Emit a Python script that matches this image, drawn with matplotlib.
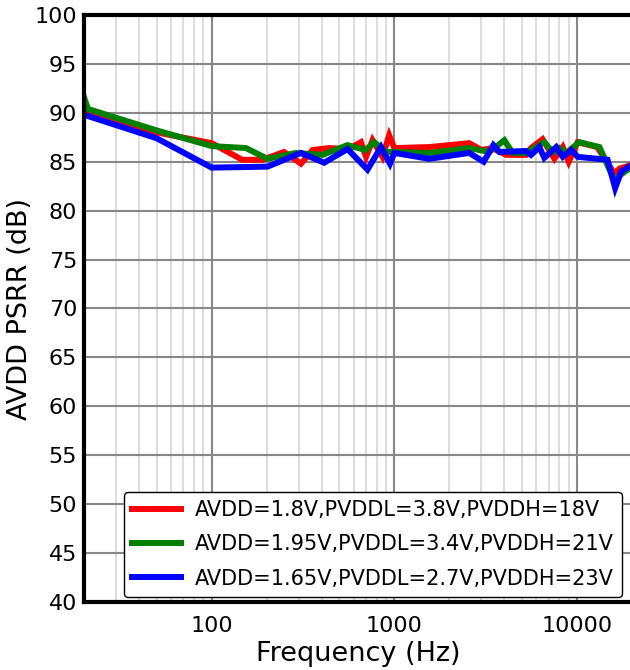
import matplotlib
matplotlib.use("Agg")
import matplotlib.pyplot as plt
from matplotlib.ticker import FixedLocator, LogLocator, NullFormatter, FixedFormatter

labels = ["AVDD=1.8V,PVDDL=3.8V,PVDDH=18V",
          "AVDD=1.95V,PVDDL=3.4V,PVDDH=21V",
          "AVDD=1.65V,PVDDL=2.7V,PVDDH=23V"]
colors = ["red", "green", "blue"]

red_f = [20, 50, 100, 147, 190, 249, 308, 357, 440, 560, 656, 700, 760, 861, 937, 1000,
         1550, 2570, 3000, 3440, 4080, 5260, 5600, 6480, 7520, 8360, 9010, 10090, 12900,
         16000, 17100, 20000]
red_db = [90.4, 88.0, 86.9, 85.2, 85.2, 86.0, 84.8, 86.2, 86.4, 86.3, 87.0, 85.5, 87.2, 85.5,
          87.7, 86.4, 86.5, 86.9, 86.2, 86.4, 85.7, 85.7, 86.4, 87.3, 85.3, 86.5, 85.0, 87.0,
          86.5, 83.8, 84.3, 84.7]

green_f = [20, 21, 50, 100, 154, 202, 289, 404, 554, 697, 776, 900, 1000, 1552, 2570, 3310,
           4000, 4440, 5260, 6620, 7360, 8010, 8710, 10300, 13270, 16000, 17100, 20000]
green_db = [91.6, 90.4, 88.2, 86.6, 86.4, 85.3, 85.9, 85.7, 86.7, 86.2, 87.0, 86.0, 86.0, 85.9,
            86.4, 86.0, 87.2, 85.9, 85.9, 87.0, 86.0, 86.4, 85.9, 87.0, 86.5, 83.1, 83.6, 84.5]

blue_f = [20, 50, 100, 202, 308, 413, 554, 713, 845, 946, 1000, 1552, 2570, 3083, 3483, 3760,
          5260, 5600, 6220, 6620, 7690, 8360, 9290, 10090, 14700, 16170, 17470, 20000]
blue_db = [89.8, 87.4, 84.4, 84.5, 85.9, 84.9, 86.3, 84.2, 86.5, 84.8, 85.9, 85.3, 85.9, 85.0,
           86.7, 86.0, 86.1, 85.7, 86.5, 85.4, 86.5, 85.5, 86.2, 85.5, 85.2, 82.3, 84.0, 84.7]

x_ticks = [100, 1000, 10000]
x_ticklabels = ["100", "1000", "10000"]
y_ticks = list(range(40, 101, 5))

fig = plt.figure(figsize=(6.3, 6.7), dpi=100)
ax = fig.add_axes([84/630, 68/670, 548/630, 587/670])

series = [(red_f, red_db), (green_f, green_db), (blue_f, blue_db)]
for (f, d), c, lab in zip(series, colors, labels):
    ax.plot(f, d, color=c, lw=4.3, label=lab, solid_joinstyle="miter")

ax.set_xscale("log")
ax.set_xlim(20, 20000)
ax.set_ylim(40, 100)
ax.xaxis.set_major_locator(FixedLocator(x_ticks))
ax.xaxis.set_major_formatter(FixedFormatter(x_ticklabels))
ax.xaxis.set_minor_locator(LogLocator(base=10, subs=range(2, 10), numticks=20))
ax.xaxis.set_minor_formatter(NullFormatter())
ax.set_yticks(y_ticks)

ax.grid(True, which="major", color="#888888", lw=1.5)
ax.grid(True, which="minor", axis="x", color="#dddddd", lw=1.5)
ax.set_axisbelow(True)

ax.tick_params(which="both", length=0, labelsize=16)
ax.tick_params(axis="x", pad=10)
ax.tick_params(axis="y", pad=5)
for s in ax.spines.values():
    s.set_linewidth(3)
    s.set_color("black")

ax.set_xlabel("Frequency (Hz)", fontsize=19.5, labelpad=4)
ax.set_ylabel("AVDD PSRR (dB)", fontsize=19.5, labelpad=1)

leg = ax.legend(loc="lower right", bbox_to_anchor=(538/548, 5/587), borderaxespad=0,
                fontsize=15.0, handlelength=2.35, handletextpad=0.65, labelspacing=0.68,
                edgecolor="black", framealpha=1, fancybox=True)
for l in leg.get_lines():
    l.set_linewidth(4.3)

fig.savefig("out.png", dpi=100)
